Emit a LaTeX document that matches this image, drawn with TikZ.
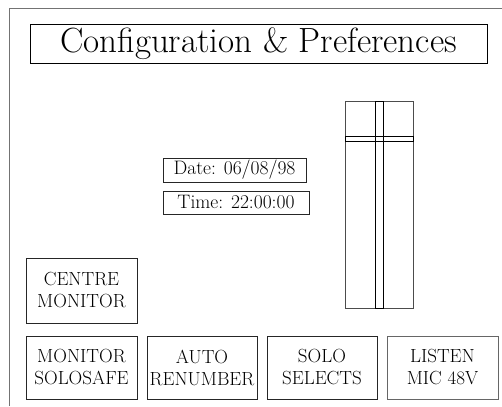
\documentclass[tikz,border=0pt]{standalone}
\usetikzlibrary{positioning}

\begin{document}
\begin{tikzpicture}[x=1pt,y=-1pt,
  panelbox/.style={draw=black!85,line width=0.9pt,rectangle,inner sep=0pt,outer sep=0pt,align=center},
  keybox/.style={panelbox,minimum width=110pt,minimum height=63pt,font=\fontsize{19}{22}\selectfont}]
\useasboundingbox (0,0) rectangle (502,406);
% outer frame
\draw[black!55,line width=1pt] (9,406) -- (9,9) -- (502,9);
% title
\node[panelbox,draw=black,minimum width=457pt,minimum height=39pt,font=\fontsize{35}{38}\selectfont] (title) at (258.5,43.5) {Configuration \& Preferences};
% date and time
\node[panelbox,minimum width=143pt,minimum height=24pt,font=\fontsize{19.5}{21}\selectfont] (date) at (234.5,170) {Date: 06/08/98};
\node[panelbox,minimum width=146pt,minimum height=23pt,font=\fontsize{19.5}{21}\selectfont] (time) at (236,202.5) {Time: 22:00:00};
% fader
\draw[black!70,line width=0.9pt] (345,101) rectangle (413,308);
\draw[black,line width=0.9pt] (375,101) rectangle (383,308);
\draw[black,line width=0.9pt] (345,136) rectangle (413,141);
% buttons
\node[keybox,minimum width=111pt,minimum height=65pt] (centre) at (81.5,290.5) {CENTRE\\MONITOR};
\node[keybox,minimum width=111pt] (solosafe) at (81.5,367.5) {MONITOR\\SOLOSAFE};
\node[keybox,right=10pt of solosafe] (renumber) {AUTO\\RENUMBER};
\node[keybox,right=10pt of renumber] (soloselect) {SOLO\\SELECTS};
\node[keybox,draw=black!60,minimum width=111pt,right=10pt of soloselect] (listen) {LISTEN\\MIC 48V};
\end{tikzpicture}
\end{document}
